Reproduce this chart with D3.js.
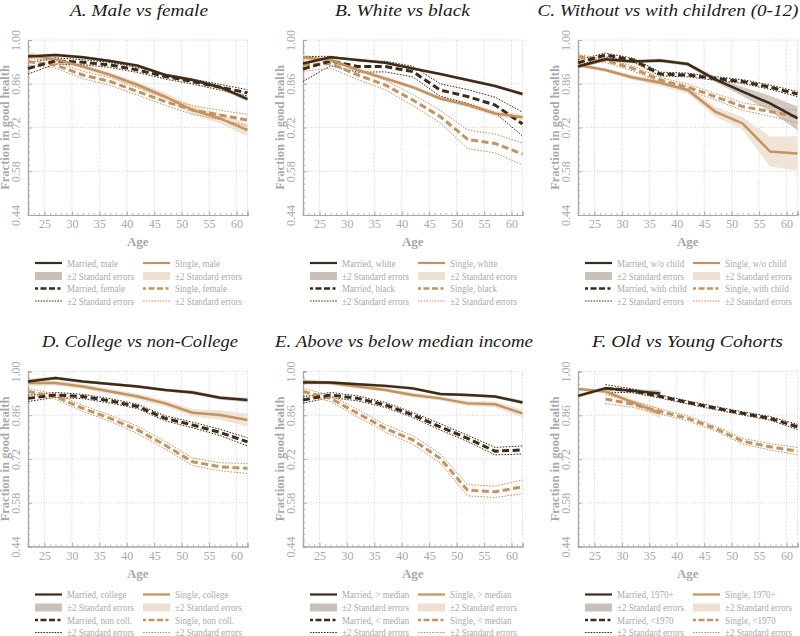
<!DOCTYPE html>
<html><head><meta charset="utf-8">
<script src="https://cdn.jsdelivr.net/npm/d3@7"></script>
<style>
body{margin:0;background:#fff}
svg{display:block}
</style>
</head><body>
<svg id="chart" width="800" height="636"></svg>
<script>
const ages = [22, 27, 32, 37, 42, 47, 52, 57, 62];
const xTicks = [25, 30, 35, 40, 45, 50, 55, 60];
const yTicks = [0.44, 0.58, 0.72, 0.86, 1.00];

// Panel A
const A_married1 = [0.947, 0.952, 0.945, 0.933, 0.918, 0.888, 0.872, 0.849, 0.811];
const A_married1SE = [0.007, 0.005, 0.005, 0.005, 0.005, 0.005, 0.006, 0.006, 0.008];
const A_single1 = [0.952, 0.938, 0.915, 0.888, 0.856, 0.819, 0.776, 0.749, 0.712];
const A_single1SE = [0.01, 0.008, 0.008, 0.008, 0.01, 0.012, 0.014, 0.016, 0.02];
const A_married2 = [0.909, 0.933, 0.929, 0.920, 0.904, 0.883, 0.867, 0.849, 0.831];
const A_married2SE = [0.018, 0.01, 0.008, 0.008, 0.008, 0.008, 0.008, 0.009, 0.01];
const A_single2 = [0.931, 0.920, 0.888, 0.867, 0.835, 0.803, 0.776, 0.760, 0.744];
const A_single2SE = [0.012, 0.01, 0.012, 0.012, 0.012, 0.012, 0.014, 0.015, 0.018];

// Panel B
const B_married1 = [0.925, 0.945, 0.936, 0.927, 0.909, 0.891, 0.872, 0.853, 0.827];
const B_married1SE = [0.006, 0.004, 0.004, 0.004, 0.004, 0.004, 0.005, 0.005, 0.006];
const B_single1 = [0.945, 0.936, 0.904, 0.877, 0.849, 0.813, 0.792, 0.765, 0.753];
const B_single1SE = [0.008, 0.006, 0.006, 0.006, 0.006, 0.007, 0.008, 0.009, 0.01];
const B_married2 = [0.907, 0.933, 0.915, 0.915, 0.899, 0.840, 0.819, 0.792, 0.731];
const B_married2SE = [0.04, 0.015, 0.018, 0.017, 0.017, 0.02, 0.022, 0.025, 0.038];
const B_single2 = [0.920, 0.925, 0.888, 0.856, 0.808, 0.755, 0.682, 0.669, 0.635];
const B_single2SE = [0.02, 0.015, 0.015, 0.015, 0.018, 0.02, 0.03, 0.03, 0.035];

// Panel C
const C_married1 = [0.915, 0.938, 0.931, 0.934, 0.923, 0.874, 0.835, 0.797, 0.749];
const C_married1SE = [0.008, 0.006, 0.006, 0.006, 0.006, 0.008, 0.015, 0.025, 0.038];
const C_single1 = [0.920, 0.904, 0.880, 0.863, 0.840, 0.771, 0.733, 0.643, 0.637];
const C_single1SE = [0.006, 0.006, 0.008, 0.01, 0.012, 0.016, 0.02, 0.048, 0.055];
const C_married2 = [0.927, 0.952, 0.936, 0.891, 0.888, 0.877, 0.867, 0.849, 0.827];
const C_married2SE = [0.01, 0.006, 0.006, 0.006, 0.006, 0.006, 0.006, 0.007, 0.008];
const C_single2 = [0.947, 0.934, 0.909, 0.872, 0.849, 0.819, 0.787, 0.771, 0.755];
const C_single2SE = [0.006, 0.006, 0.008, 0.008, 0.01, 0.01, 0.012, 0.015, 0.02];

// Panel D
const D_married1 = [0.968, 0.979, 0.968, 0.960, 0.952, 0.941, 0.933, 0.916, 0.909];
const D_married1SE = [0.008, 0.005, 0.005, 0.005, 0.005, 0.005, 0.006, 0.006, 0.007];
const D_single1 = [0.963, 0.963, 0.952, 0.936, 0.920, 0.898, 0.868, 0.861, 0.845];
const D_single1SE = [0.01, 0.008, 0.008, 0.008, 0.01, 0.01, 0.012, 0.015, 0.02];
const D_married2 = [0.914, 0.925, 0.920, 0.906, 0.888, 0.850, 0.829, 0.805, 0.775];
const D_married2SE = [0.01, 0.008, 0.007, 0.007, 0.007, 0.008, 0.009, 0.01, 0.013];
const D_single2 = [0.936, 0.920, 0.882, 0.850, 0.813, 0.764, 0.711, 0.695, 0.690];
const D_single2SE = [0.01, 0.008, 0.01, 0.01, 0.012, 0.012, 0.012, 0.013, 0.016];

// Panel E
const E_married1 = [0.965, 0.965, 0.959, 0.954, 0.946, 0.928, 0.925, 0.920, 0.901];
const E_married1SE = [0.006, 0.005, 0.005, 0.005, 0.005, 0.005, 0.005, 0.005, 0.006];
const E_single1 = [0.968, 0.963, 0.952, 0.941, 0.925, 0.914, 0.898, 0.895, 0.866];
const E_single1SE = [0.008, 0.006, 0.006, 0.006, 0.007, 0.007, 0.008, 0.01, 0.012];
const E_married2 = [0.909, 0.925, 0.914, 0.893, 0.861, 0.823, 0.786, 0.745, 0.749];
const E_married2SE = [0.01, 0.008, 0.008, 0.008, 0.008, 0.01, 0.01, 0.012, 0.013];
const E_single2 = [0.936, 0.914, 0.866, 0.818, 0.781, 0.722, 0.620, 0.615, 0.631];
const E_single2SE = [0.01, 0.01, 0.012, 0.012, 0.014, 0.015, 0.018, 0.018, 0.022];

// Panel F
const F_married1 = [0.922, 0.946, 0.938, 0.930, null, null, null, null, null];
const F_married1SE = [0.006, 0.005, 0.006, 0.01, null, null, null, null, null];
const F_single1 = [0.944, 0.936, 0.901, 0.866, null, null, null, null, null];
const F_single1SE = [0.005, 0.006, 0.01, 0.016, null, null, null, null, null];
const F_married2 = [null, 0.946, 0.938, 0.920, 0.901, 0.883, 0.866, 0.850, 0.823];
const F_married2SE = [null, 0.012, 0.006, 0.005, 0.005, 0.005, 0.005, 0.006, 0.008];
const F_single2 = [null, 0.912, 0.895, 0.872, 0.850, 0.818, 0.777, 0.759, 0.745];
const F_single2SE = [null, 0.014, 0.01, 0.008, 0.008, 0.008, 0.009, 0.01, 0.012];

const titles = ["A. Male vs female", "B. White vs black", "C. Without vs with children (0-12)",
  "D. College vs non-College", "E. Above vs below median income", "F. Old vs Young Cohorts"];
const legendLabels = [
  ["Married, male", "Single, male", "Married, female", "Single, female"],
  ["Married, white", "Single, white", "Married, black", "Single, black"],
  ["Married, w/o child", "Single, w/o child", "Married, with child", "Single, with child"],
  ["Married, college", "Single, college", "Married, non coll.", "Single, non coll."],
  ["Married, > median", "Single, > median", "Married, < median", "Single, < median"],
  ["Married, 1970+", "Single, 1970+", "Married, <1970", "Single, <1970"]
];
const panelData = [
  [A_married1, A_married1SE, A_single1, A_single1SE, A_married2, A_married2SE, A_single2, A_single2SE],
  [B_married1, B_married1SE, B_single1, B_single1SE, B_married2, B_married2SE, B_single2, B_single2SE],
  [C_married1, C_married1SE, C_single1, C_single1SE, C_married2, C_married2SE, C_single2, C_single2SE],
  [D_married1, D_married1SE, D_single1, D_single1SE, D_married2, D_married2SE, D_single2, D_single2SE],
  [E_married1, E_married1SE, E_single1, E_single1SE, E_married2, E_married2SE, E_single2, E_single2SE],
  [F_married1, F_married1SE, F_single1, F_single1SE, F_married2, F_married2SE, F_single2, F_single2SE]
];

const FONT = '"Liberation Serif", "Times New Roman", serif';
const MARRIED = "#3e2a17", SINGLE = "#c4935f";
const MBAND = "#c9c1b9", SBAND = "#eee1d3";
const GRID = "#c8c8c8", AXIS = "#a8a8a8", TXT = "#a9a9a9";

const svg = d3.select("#chart");
const colX = [28, 303, 578];
const rowY = [40, 371.5];
const W = 219.5, H = 175;
const titleCx = [111, 99.5, 90, 112, 101, 109.5];   // title centre, relative to plot left
const titleW = [138, 135, 261, 196, 258, 191];

// legend text compression factor, measured once
const probe = svg.append("text").attr("font-family", FONT).attr("font-size", 10.5).text("±2 Standard errors");
const legendK = Math.min(1, 67 / probe.node().getComputedTextLength());
probe.remove();

panelData.forEach((pd, i) => {
  const ox = colX[i % 3], oy = rowY[Math.floor(i / 3)];
  const g = svg.append("g").attr("transform", `translate(${ox},${oy})`);
  const x = d3.scaleLinear().domain([22, 62]).range([0, W]);
  const y = d3.scaleLinear().domain([0.44, 1.00]).range([H, 0]);

  g.append("g").selectAll("line").data(xTicks.concat([62])).join("line")
    .attr("x1", d => x(d)).attr("x2", d => x(d)).attr("y1", 0).attr("y2", H)
    .attr("stroke", GRID).attr("stroke-width", 0.8).attr("stroke-dasharray", "1,1.6");
  g.append("g").selectAll("line").data(yTicks.slice(1)).join("line")
    .attr("x1", 0).attr("x2", W).attr("y1", d => y(d)).attr("y2", d => y(d))
    .attr("stroke", GRID).attr("stroke-width", 0.8).attr("stroke-dasharray", "1,1.6");

  const xAxis = d3.axisBottom(x).tickValues(xTicks).tickSize(-4).tickFormat(d3.format("d"));
  const xa = g.append("g").attr("transform", `translate(0,${H})`).call(xAxis);
  const xMinor = d3.axisBottom(x).tickValues(d3.range(22, 63, 1)).tickSize(-2).tickFormat("");
  g.append("g").attr("transform", `translate(0,${H})`).call(xMinor);
  const yAxis = d3.axisLeft(y).tickValues(yTicks).tickSize(-4).tickFormat(d3.format(".2f"));
  const ya = g.append("g").call(yAxis);
  const yMinor = d3.axisLeft(y).tickValues(d3.range(0, 29).map(k => 0.44 + k * 0.02)).tickSize(-2).tickFormat("");
  g.append("g").call(yMinor);
  g.selectAll(".domain").attr("stroke", AXIS).attr("stroke-width", 1.2);
  g.selectAll(".tick line").attr("stroke", AXIS).attr("stroke-width", 0.8);
  xa.attr("font-family", FONT); ya.attr("font-family", FONT);
  xa.selectAll("text").attr("font-size", 12).attr("fill", TXT).attr("dy", "0.85em").attr("y", 3);
  ya.selectAll("text").attr("font-size", 12).attr("fill", TXT)
    .attr("x", 0).attr("dy", 0).attr("text-anchor", "middle")
    .attr("transform", "translate(-8,0) rotate(-90)");

  g.append("text").attr("x", titleCx[i]).attr("y", -24.5).attr("text-anchor", "middle")
    .attr("font-family", FONT).attr("font-style", "italic").attr("font-size", 17.5).attr("fill", "#1a1a1a")
    .attr("textLength", titleW[i]).attr("lengthAdjust", "spacingAndGlyphs")
    .text(titles[i]);
  g.append("text").attr("transform", `translate(-19,${H / 2}) rotate(-90)`).attr("text-anchor", "middle")
    .attr("font-family", FONT).attr("font-weight", "bold").attr("font-size", 12.5).attr("fill", TXT)
    .text("Fraction in good health");
  g.append("text").attr("x", W / 2).attr("y", H + 31).attr("text-anchor", "middle")
    .attr("font-family", FONT).attr("font-weight", "bold").attr("font-size", 13).attr("fill", TXT)
    .text("Age");

  const clip = g.append("g");
  const pts = (vals, se) => ages.map((a, k) => ({ a, v: vals[k], s: se[k] }));
  const area = d3.area().defined(d => d.v != null).x(d => x(d.a))
    .y0(d => y(d.v - d.s)).y1(d => y(d.v + d.s));
  const line = d3.line().defined(d => d.v != null).x(d => x(d.a)).y(d => y(d.v));
  const lineOff = (off) => d3.line().defined(d => d.v != null).x(d => x(d.a)).y(d => y(d.v + off * d.s));

  const [m1, m1s, s1, s1s, m2, m2s, s2, s2s] = pd;
  const Pm1 = pts(m1, m1s), Ps1 = pts(s1, s1s), Pm2 = pts(m2, m2s), Ps2 = pts(s2, s2s);

  clip.append("path").attr("d", area(Pm1)).attr("fill", MBAND).attr("opacity", 0.85);
  clip.append("path").attr("d", area(Ps1)).attr("fill", SBAND).attr("opacity", 0.9);

  [[Pm2, MARRIED], [Ps2, SINGLE]].forEach(([P, c]) => {
    [-1, 1].forEach(o => clip.append("path").attr("d", lineOff(o)(P)).attr("fill", "none")
      .attr("stroke", c).attr("stroke-width", 1).attr("stroke-dasharray", "1.6,1.4"));
  });
  clip.append("path").attr("d", line(Ps2)).attr("fill", "none").attr("stroke", SINGLE)
    .attr("stroke-width", 3).attr("stroke-dasharray", "7,3.5");
  clip.append("path").attr("d", line(Pm2)).attr("fill", "none").attr("stroke", MARRIED)
    .attr("stroke-width", 3).attr("stroke-dasharray", "7,3.5");
  clip.append("path").attr("d", line(Ps1)).attr("fill", "none").attr("stroke", SINGLE).attr("stroke-width", 2.5);
  clip.append("path").attr("d", line(Pm1)).attr("fill", "none").attr("stroke", MARRIED).attr("stroke-width", 2.5);

  const lg = g.append("g").attr("transform", `translate(0,${H})`);
  const rows = [48, 61, 73.5, 86];
  const labs = legendLabels[i];
  const entries = [
    { col: 0, row: 0, type: "solid", c: MARRIED, t: labs[0] },
    { col: 1, row: 0, type: "solid", c: SINGLE, t: labs[1] },
    { col: 0, row: 1, type: "band", c: MBAND, t: "±2 Standard errors" },
    { col: 1, row: 1, type: "band", c: SBAND, t: "±2 Standard errors" },
    { col: 0, row: 2, type: "dash", c: MARRIED, t: labs[2] },
    { col: 1, row: 2, type: "dash", c: SINGLE, t: labs[3] },
    { col: 0, row: 3, type: "dot", c: MARRIED, t: "±2 Standard errors" },
    { col: 1, row: 3, type: "dot", c: SINGLE, t: "±2 Standard errors" }
  ];
  entries.forEach(e => {
    const sx = e.col === 0 ? 7 : 115, yy = rows[e.row];
    if (e.type === "band") {
      lg.append("rect").attr("x", sx).attr("y", yy - 4).attr("width", 27).attr("height", 8).attr("fill", e.c);
    } else {
      const ln = lg.append("line").attr("x1", sx).attr("x2", sx + 27).attr("y1", yy).attr("y2", yy).attr("stroke", e.c);
      if (e.type === "solid") ln.attr("stroke-width", 2.2);
      if (e.type === "dash") ln.attr("stroke-width", 2.6).attr("stroke-dasharray", "3,2.5,6,2.5,6,2.5");
      if (e.type === "dot") ln.attr("stroke-width", 1).attr("stroke-dasharray", "1.6,1.2");
    }
    const t = lg.append("text").attr("x", sx + 32).attr("y", yy).attr("dy", "0.35em")
      .attr("font-family", FONT).attr("font-size", 10.5).attr("fill", "#aaaaaa").text(e.t);
    const w = t.node().getComputedTextLength();
    t.attr("textLength", w * legendK).attr("lengthAdjust", "spacingAndGlyphs");
  });
});
</script>
</body></html>
